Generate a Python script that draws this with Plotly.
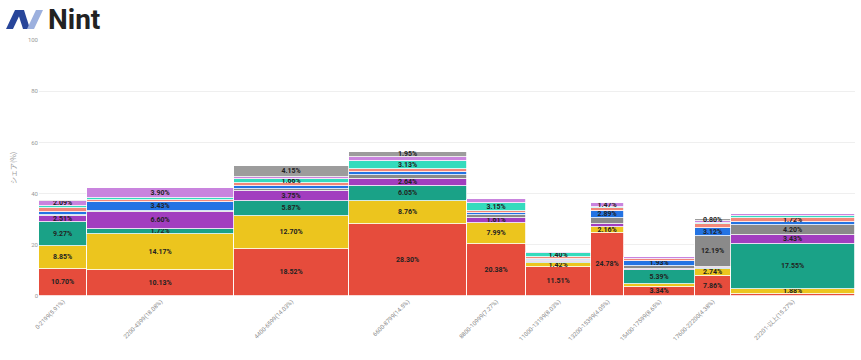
import plotly.graph_objects as go

# ---- data ----
price_bands = ["0-2199", "2200-4399", "4400-6599", "6600-8799", "8800-10999",
               "11000-13199", "13200-15399", "15400-17599", "17600-22200", "22201-以上"]
band_share = [5.91, 18.08, 14.03, 14.5, 7.27, 8.03, 4.05, 8.65, 4.38, 15.27]
tick_labels = ["0-2199(5.91%)", "2200-4399(18.08%)", "4400-6599(14.03%)", "6600-8799(14.5%)",
               "8800-10999(7.27%)", "11000-13199(8.03%)", "13200-15399(4.05%)",
               "15400-17599(8.65%)", "17600-22200(4.38%)", "22201-以上(15.27%)"]

s1 = [10.70, 10.13, 18.52, 28.30, 20.38, 11.51, 24.78, 3.34, 7.86, 0.80]
s2 = [8.85, 14.17, 12.70, 8.76, 7.99, 1.42, 2.16, 1.50, 2.74, 1.88]
s3 = [9.27, 1.72, 5.87, 6.05, 0.30, 0.20, 0.20, 5.39, 0.20, 17.55]
s4 = [2.51, 6.60, 3.75, 2.64, 1.61, 0.50, 0.80, 0.30, 0.50, 3.43]
s5 = [0.30, 0.50, 0.80, 1.50, 1.20, 0.50, 2.50, 1.20, 12.19, 4.20]
s6 = [1.20, 3.43, 1.50, 1.00, 0.80, 0.50, 2.89, 1.93, 3.12, 1.00]
s7 = [1.50, 1.00, 1.00, 1.20, 1.00, 0.60, 1.20, 0.60, 1.60, 1.72]
s8 = [0.80, 0.70, 1.66, 3.13, 3.15, 1.40, 0.30, 0.30, 0.40, 0.50]
s9 = [2.09, 3.90, 0.80, 1.70, 1.50, 0.60, 1.47, 0.80, 0.70, 1.00]
s10 = [0.30, 0.00, 4.15, 1.95, 0.00, 0.00, 0.00, 0.00, 0.80, 0.00]

series = [s1, s2, s3, s4, s5, s6, s7, s8, s9, s10]
colors = ["#e64c3c", "#ecc51e", "#1aa287", "#a23ebf", "#8a8a8a",
          "#2373e3", "#f2877a", "#34dbbd", "#c984de", "#9c9c9c"]
# which segments carry a visible value label (bar indices per series)
labelled = [
    [0, 1, 2, 3, 4, 5, 6, 7, 8],
    [0, 1, 2, 3, 4, 5, 6, 8, 9],
    [0, 1, 2, 3, 7, 9],
    [0, 1, 2, 3, 4, 9],
    [8, 9],
    [1, 6, 7, 8],
    [9],
    [2, 3, 4, 5],
    [0, 1, 6],
    [2, 3, 8],
]

# ---- geometry from shares ----
lefts = []
acc = 0.0
for w in band_share:
    lefts.append(acc)
    acc += w
total = acc
centers = [l + w / 2 for l, w in zip(lefts, band_share)]

fig = go.Figure()
for vals, col, lab in zip(series, colors, labelled):
    texts = [f"{v:.2f}%" if i in lab else "" for i, v in enumerate(vals)]
    fig.add_trace(go.Bar(
        x=centers, y=vals, width=band_share,
        marker=dict(color=col, line=dict(color="white", width=0.8)),
        text=texts, textposition="inside", insidetextanchor="middle",
        textfont=dict(size=7, color="#222", family="Roboto", weight="bold"),
        textangle=0, cliponaxis=False, hoverinfo="skip",
    ))

fig.update_layout(
    barmode="stack", bargap=0,
    width=861, height=360,
    margin=dict(l=39, r=6, t=40, b=64),
    paper_bgcolor="white", plot_bgcolor="white",
    showlegend=False,
    uniformtext=dict(minsize=7, mode="show"),
    font=dict(family="Roboto", color="#999"),
)
fig.update_xaxes(range=[0, total], tickvals=centers, ticktext=tick_labels,
                 tickangle=-45, tickfont=dict(size=6, color="#888"),
                 showgrid=False, zeroline=False, showline=False, ticks="")
fig.update_yaxes(range=[0, 100], tickvals=[0, 20, 40, 60, 80, 100],
                 tickfont=dict(size=6, color="#999"), gridcolor="#efefef",
                 zeroline=False, showline=False, ticks="",
                 title=dict(text="シェア(%)", font=dict(size=7, color="#999",
                            family="Noto Sans CJK JP"), standoff=10))

# logo (paper coords: X px -> (X-39)/816, Y px -> 1-(Y-40)/256)
def px(X, Y):
    return f"{(X - 39) / 816:.4f} {1 - (Y - 40) / 256:.4f}"

dark = "M " + " L ".join([px(6, 29), px(15, 10), px(22, 10), px(13, 29)]) + " Z"
mid = "M " + " L ".join([px(17, 10), px(24, 10), px(30, 29), px(23, 29)]) + " Z"
light = "M " + " L ".join([px(27, 29), px(36, 10), px(43, 10), px(34, 29)]) + " Z"
fig.add_shape(type="path", xref="paper", yref="paper", path=dark, fillcolor="#28469a", line_width=0)
fig.add_shape(type="path", xref="paper", yref="paper", path=mid, fillcolor="#28469a", line_width=0)
fig.add_shape(type="path", xref="paper", yref="paper", path=light, fillcolor="#9cb0de", line_width=0)
fig.add_annotation(xref="paper", yref="paper", x=(46 - 39) / 816, y=1 - (19 - 40) / 256,
                   xanchor="left", yanchor="middle",
                   text="<b>Nint</b>", showarrow=False,
                   font=dict(size=28, color="#222", family="Roboto"))

fig.write_html("out.html", config={"displayModeBar": False},
               post_script="document.body.style.margin='0px';document.body.style.overflow='hidden';")
